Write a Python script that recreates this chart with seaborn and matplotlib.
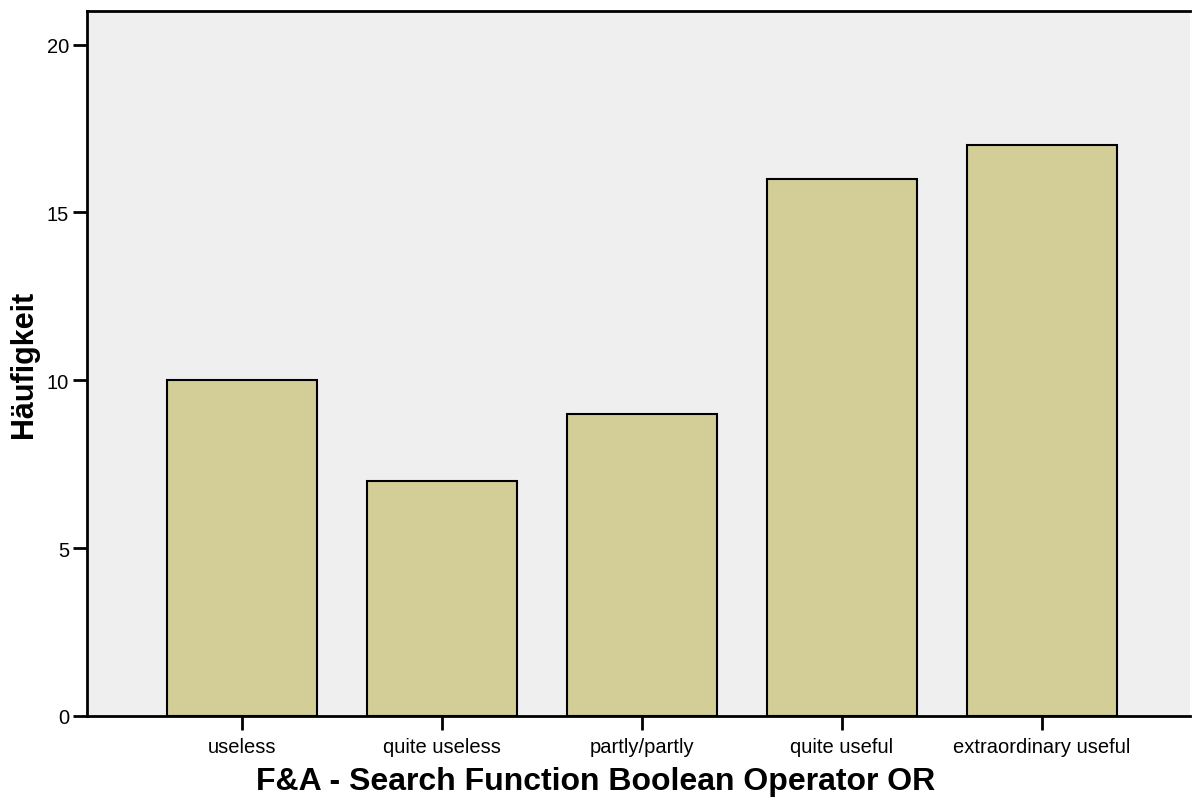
import pandas as pd
import seaborn as sns
import matplotlib.pyplot as plt

# Response categories and counts
categories = ["useless", "quite useless", "partly/partly", "quite useful", "extraordinary useful"]
counts = [10, 7, 9, 16, 17]

df = pd.DataFrame({"Antwort": categories, "Häufigkeit": counts})

sns.set_style("white")
plt.rcParams["font.family"] = ["Liberation Sans", "DejaVu Sans"]

fig = plt.figure(figsize=(11.92, 8.03), dpi=100)
ax = fig.add_axes([87 / 1192, 86 / 803, 1103 / 1192, 705 / 803])
ax.set_facecolor("#EFEFEF")

sns.barplot(data=df, x="Antwort", y="Häufigkeit", color="#D3CE97",
            width=0.75, edgecolor="black", linewidth=1.5, saturation=1, ax=ax)

ax.set_xlim(-0.775, 4.74)
ax.set_ylim(0, 21)
ax.set_yticks([0, 5, 10, 15, 20])

for side in ["left", "bottom", "top"]:
    ax.spines[side].set_visible(True)
    ax.spines[side].set_color("black")
    ax.spines[side].set_linewidth(2)
ax.spines["right"].set_visible(False)

ax.tick_params(axis="both", which="major", bottom=True, left=True,
               direction="out", length=10, width=2, color="black",
               labelsize=14.5, labelcolor="black", pad=3)
ax.tick_params(axis="x", pad=5)

ax.set_xlabel("F&A - Search Function Boolean Operator OR", fontsize=23,
              fontweight="bold", color="black", va="center")
ax.xaxis.set_label_coords((596 - 87) / 1103, (717 - 782) / 705)
ax.set_ylabel("Häufigkeit", fontsize=22, fontweight="bold", color="black", va="center")
ax.yaxis.set_label_coords((24 - 87) / 1103, 0.5)

fig.savefig("out.png", dpi=100)
plt.close()
